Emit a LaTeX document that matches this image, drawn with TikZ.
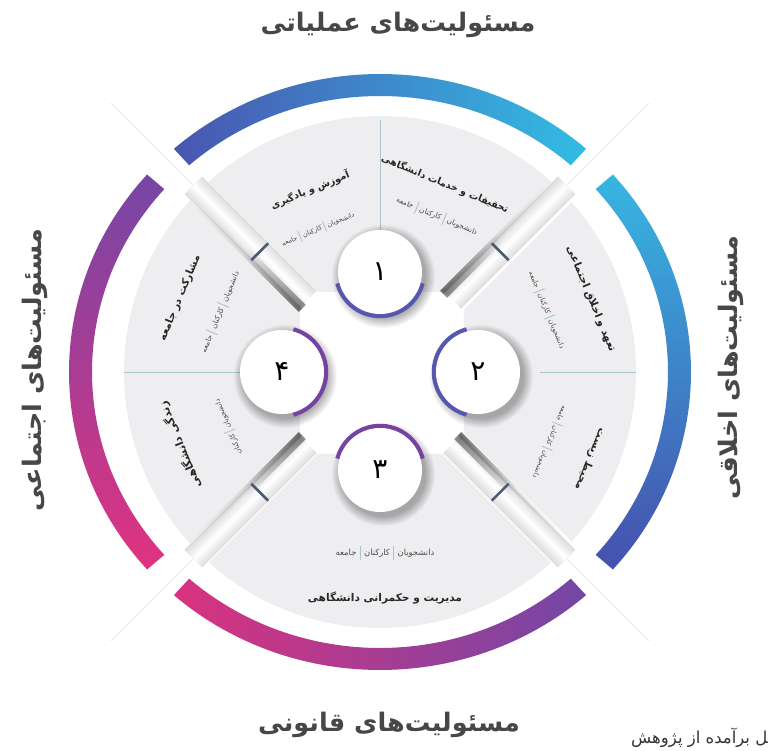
\documentclass[tikz,border=0pt]{standalone}
\usepackage{fontspec}
\newfontfamily\fa[Script=Arabic]{DejaVu Sans}
\TeXXeTstate=1
\usetikzlibrary{fadings}
\definecolor{qgrey}{HTML}{EEEEF1}
\definecolor{sepc}{HTML}{A9C6CA}
\definecolor{tickc}{HTML}{4B5B73}
\definecolor{ttl}{HTML}{474747}
\definecolor{tA}{HTML}{4A55B1}
\definecolor{tB}{HTML}{32BCE3}
\definecolor{rA}{HTML}{36B6E1}
\definecolor{rB}{HTML}{4650AE}
\definecolor{bA}{HTML}{DA327F}
\definecolor{bB}{HTML}{7347A6}
\definecolor{lA}{HTML}{7646A6}
\definecolor{lB}{HTML}{DF3380}
\definecolor{arcblue}{HTML}{5558AE}
\definecolor{arcpurp}{HTML}{7443A3}
\tikzfading[name=fadeout, left color=transparent!0, right color=transparent!100]
\newcommand\rtltext[1]{\beginR#1\endR}
\newcommand\mysep{\hspace{0.4em}\textcolor{sepc}{\rule[-0.5em]{0.9pt}{1.7em}}\hspace{0.4em}}
\tikzset{
 qtitle/.style={font=\fa\bfseries\fontsize{#1}{#1}\selectfont, text=black!85, inner sep=0},
 qtitle/.default=10,
 qitem/.style={font=\fa\fontsize{#1}{#1}\selectfont, text=black!70, inner sep=0},
 qitem/.default=7,
 maintitle/.style={font=\fa\bfseries\fontsize{25.5}{28}\selectfont, text=ttl, inner sep=0},
 numcirc/.style={circle, fill=white, minimum size=84pt, inner sep=0, font=\fa\fontsize{28}{30}\selectfont},
 csh/.style={black, opacity=0.3, path fading=circle with fuzzy edge 20 percent},
 sepline/.style={sepc, line width=0.8},
}
\begin{document}
\begin{tikzpicture}[x=1pt,y=1pt]
\useasboundingbox[fill=white] (-380,-379) rectangle (389,372);
% thin diagonal guide lines
\foreach \a in {45,135,225,315} \draw[black!12, line width=0.6] (\a:262) -- (\a:380);
% gradient ring segments (slightly elliptic)
\shade[left color=tA, right color=tB] (48.5:311 and 298) arc[start angle=48.5, end angle=131.5, x radius=311, y radius=298] -- (131.5:288 and 276) arc[start angle=131.5, end angle=48.5, x radius=288, y radius=276] -- cycle;
\shade[top color=rA, bottom color=rB] (-41.5:311 and 298) arc[start angle=-41.5, end angle=41.5, x radius=311, y radius=298] -- (41.5:288 and 276) arc[start angle=41.5, end angle=-41.5, x radius=288, y radius=276] -- cycle;
\shade[left color=bA, right color=bB] (228.5:311 and 298) arc[start angle=228.5, end angle=311.5, x radius=311, y radius=298] -- (311.5:288 and 276) arc[start angle=311.5, end angle=228.5, x radius=288, y radius=276] -- cycle;
\shade[top color=lA, bottom color=lB] (138.5:311 and 298) arc[start angle=138.5, end angle=221.5, x radius=311, y radius=298] -- (221.5:288 and 276) arc[start angle=221.5, end angle=138.5, x radius=288, y radius=276] -- cycle;
% grey quadrants
\begin{scope}
\clip (0,0) circle (256);
\fill[qgrey] (-62,80) -- (-462,480) -- (462,480) -- (62,80) -- cycle;
\fill[qgrey] (84,62) -- (484,462) -- (484,-462) -- (84,-62) -- cycle;
\fill[qgrey] (-62,-82) -- (-462,-482) -- (462,-482) -- (62,-82) -- cycle;
\fill[qgrey] (-80,62) -- (-480,462) -- (-480,-462) -- (-80,-62) -- cycle;
\end{scope}
% bars
\foreach \a/\s in {45/1,135/1,225/-1,315/1}{
 \begin{scope}[transform canvas={rotate=\a}]
  \shade[top color=black!14, bottom color=black!14, middle color=white] (102,-12.5) rectangle (264,12.5);
  \fill[black, opacity=0.45, path fading=fadeout] (100,\s*5) rectangle (180,\s*15);
  \fill[black, opacity=0.2, path fading=fadeout] (100,\s*10) rectangle (250,\s*15);
  \draw[tickc, line width=2.6] (170,-12) -- (170,12);
 \end{scope}
}
% separator lines
\draw[sepline] (0,140) -- (0,252);
\draw[sepline] (160,0) -- (256,0);
\draw[sepline] (-256,0) -- (-140,0);
% circle shadows
\fill[csh] (3,96) circle (52);
\fill[csh] (101,-4) circle (52);
\fill[csh] (3,-102) circle (52);
\fill[csh] (-95,-4) circle (52);
% coloured arcs
\draw[arcblue, line width=4.5] (0,100) ++(195:44) arc[start angle=195, end angle=345, radius=44];
\draw[arcblue, line width=4.5] (98,0) ++(105:44) arc[start angle=105, end angle=255, radius=44];
\draw[arcpurp, line width=4.5] (0,-98) ++(15:44) arc[start angle=15, end angle=165, radius=44];
\draw[arcpurp, line width=4.5] (-98,0) ++(-75:44) arc[start angle=-75, end angle=75, radius=44];
% numbered circles
\node[numcirc] (c1) at (0,100) {۱};
\node[numcirc] (c2) at (98,0) {۲};
\node[numcirc] (c3) at (0,-98) {۳};
\node[numcirc] (c4) at (-98,0) {۴};
% quadrant texts
\node[qtitle=9.7, rotate=22.5] (q1t) at (-70,182) {\rtltext{آموزش و یادگیری}};
\node[qitem=6.6, rotate=22.5] (q1i) at (-62,143) {\rtltext{جامعه}\mysep\rtltext{کارکنان}\mysep\rtltext{دانشجویان}};
\node[qtitle=9.6, rotate=-22.5] (q2t) at (65,188) {\rtltext{تحقیقات و خدمات دانشگاهی}};
\node[qitem=7.4, rotate=-22.5] (q2i) at (57,156) {\rtltext{جامعه}\mysep\rtltext{کارکنان}\mysep\rtltext{دانشجویان}};
\node[qtitle=10.5, rotate=-67.5] (q3t) at (211,73) {\rtltext{تعهد و اخلاق اجتماعی}};
\node[qitem=7, rotate=-67.5] (q3i) at (167,62) {\rtltext{جامعه}\mysep\rtltext{کارکنان}\mysep\rtltext{دانشجویان}};
\node[qtitle=10.5, rotate=-112.5] (q4t) at (210,-87) {\rtltext{محیط زیست}};
\node[qitem=6.6, rotate=-112.5] (q4i) at (170,-70) {\rtltext{جامعه}\mysep\rtltext{کارکنان}\mysep\rtltext{دانشجویان}};
\node[qtitle=10.6] (q5t) at (5,-226) {\rtltext{مدیریت و حکمرانی دانشگاهی}};
\node[qitem=8.4] (q5i) at (5,-181) {\rtltext{جامعه}\mysep\rtltext{کارکنان}\mysep\rtltext{دانشجویان}};
\node[qtitle=11, rotate=112.5] (q6t) at (-200,-73) {\rtltext{زندگی دانشگاهی}};
\node[qitem=7, rotate=112.5] (q6i) at (-152,-55) {\rtltext{کارکنان}\mysep\rtltext{دانشجویان}};
\node[qtitle=10.4, rotate=67.5] (q7t) at (-200,74) {\rtltext{مشارکت در جامعه}};
\node[qitem=7.4, rotate=67.5] (q7i) at (-160,60) {\rtltext{جامعه}\mysep\rtltext{کارکنان}\mysep\rtltext{دانشجویان}};
% main titles
\node[maintitle] (tTop) at (18,347) {\rtltext{مسئولیت^^^^200cهای عملیاتی}};
\node[maintitle, rotate=90] (tRight) at (351,4) {\rtltext{مسئولیت^^^^200cهای اخلاقی}};
\node[maintitle, rotate=90] (tLeft) at (-345,2) {\rtltext{مسئولیت^^^^200cهای اجتماعی}};
\node[maintitle] (tBot) at (9,-353) {\rtltext{مسئولیت^^^^200cهای قانونی}};
% caption (cut at the right edge)
\node[font=\fa\fontsize{16.5}{18}\selectfont, text=black!80, inner sep=0, anchor=east] (cap) at (388,-366) {\rtltext{^^^^200dل برآمده از پژوهش}};
\end{tikzpicture}
\end{document}
